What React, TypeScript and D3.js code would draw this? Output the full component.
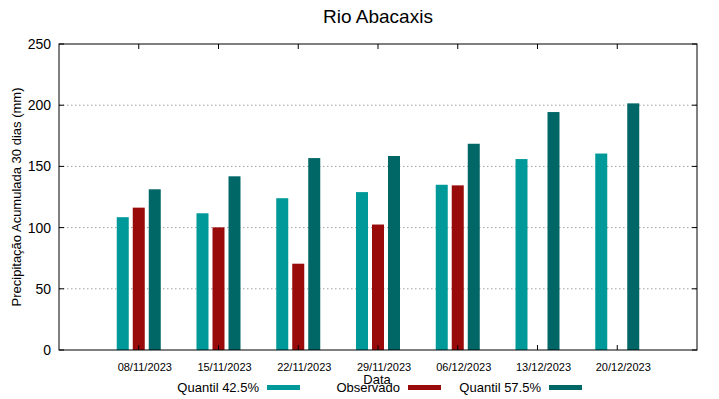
import React from "react";
import * as d3 from "d3";

const dates = ["08/11/2023", "15/11/2023", "22/11/2023", "29/11/2023", "06/12/2023", "13/12/2023", "20/12/2023"];
const q425 = [108.5, 111.7, 124, 129, 135, 156, 160.5];
const observado: (number | null)[] = [116.3, 100.2, 70.5, 102.5, 134.5, null, null];
const q575 = [131.3, 141.9, 156.8, 158.5, 168.5, 194.4, 201.5];
const yTicks = [0, 50, 100, 150, 200, 250];

const seriesNames = ["Quantil 42.5%", "Observado", "Quantil 57.5%"];
const colors = ["#009999", "#990a0a", "#006666"];

export default function App() {
  const W = 719, H = 399;
  const left = 59, right = 697, top = 44, bottom = 350;
  const x = d3.scaleLinear().domain([-1, 7]).range([left, right]);
  const y = d3.scaleLinear().domain([0, 250]).range([bottom, top]);
  const series = [q425, observado, q575];
  const barW = 12, step = 16;
  const font = "'Liberation Sans', Arial, sans-serif";

  const legendX = [259, 400, 541];

  return (
    <svg width={W} height={H} style={{ position: "absolute", left: 0, top: 0, fontFamily: font }}>
      <rect width={W} height={H} fill="#fff" />
      <text x={378} y={23} textAnchor="middle" fontSize={19} fill="#000">Rio Abacaxis</text>
      {yTicks.filter(t => t > 0 && t < 250).map(t => (
        <line key={"g" + t} x1={left} x2={right} y1={y(t)} y2={y(t)} stroke="#a0a0a0" strokeWidth={1} strokeDasharray="1.5,2.5" />
      ))}
      {series.map((s, si) =>
        s.map((v, i) =>
          v == null ? null : (
            <rect key={si + "-" + i} x={x(i) + (si - 1) * step - barW / 2} y={y(v)} width={barW} height={y(0) - y(v)} fill={colors[si]} />
          )
        )
      )}
      <rect x={left} y={top} width={right - left} height={bottom - top} fill="none" stroke="#000" strokeWidth={1} />
      {yTicks.map(t => (
        <g key={"y" + t}>
          <line x1={left} x2={left + 5} y1={y(t)} y2={y(t)} stroke="#000" />
          <line x1={right - 5} x2={right} y1={y(t)} y2={y(t)} stroke="#000" />
          <text x={51} y={y(t) + 5} textAnchor="end" fontSize={14} fill="#000">{t}</text>
        </g>
      ))}
      {dates.map((d, i) => (
        <g key={d}>
          <line x1={x(i)} x2={x(i)} y1={bottom} y2={bottom - 5} stroke="#000" />
          <line x1={x(i)} x2={x(i)} y1={top} y2={top + 5} stroke="#000" />
          <text x={x(i) + 6} y={371} textAnchor="middle" fontSize={11} fill="#000">{d}</text>
        </g>
      ))}
      <text x={377} y={384} textAnchor="middle" fontSize={13} fill="#000">Data</text>
      <text transform={`translate(21,${(top + bottom) / 2}) rotate(-90)`} textAnchor="middle" fontSize={13} fill="#000">
        Precipitação Acumulada 30 dias (mm)
      </text>
      {seriesNames.map((n, i) => (
        <g key={n}>
          <text x={legendX[i]} y={392} textAnchor="end" fontSize={13} fill="#000">{n}</text>
          <rect x={legendX[i] + 8} y={385} width={33} height={5} fill={colors[i]} />
        </g>
      ))}
    </svg>
  );
}
